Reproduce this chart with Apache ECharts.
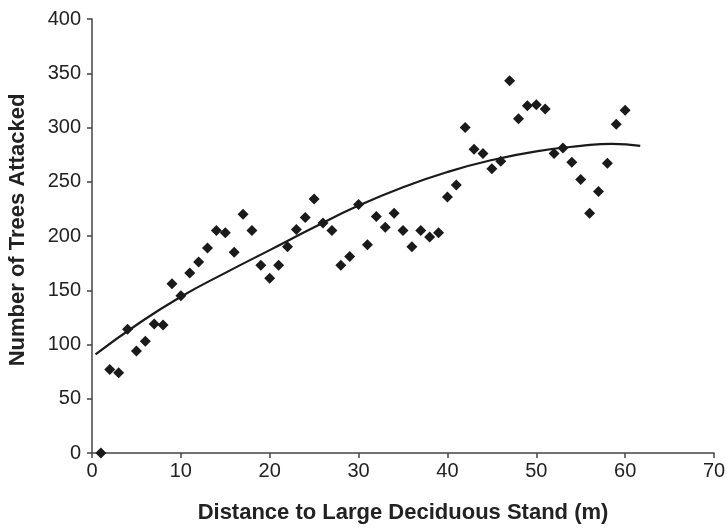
<!DOCTYPE html>
<html>
<head>
<meta charset="utf-8">
<script src="https://cdn.jsdelivr.net/npm/echarts@6/dist/echarts.min.js"></script>
<style>html,body{margin:0;padding:0;background:#fff}#c{width:727px;height:530px}</style>
</head>
<body>
<div id="c"></div>
<script>
// Observed data: distance (m) and number of trees attacked
const distances = [1,2,3,4,5,6,7,8,9,10,11,12,13,14,15,16,17,18,19,20,21,22,23,24,25,26,27,28,29,30,31,32,33,34,35,36,37,38,39,40,41,42,43,44,45,46,47,48,49,50,51,52,53,54,55,56,57,58,59,60];
const treesAttacked = [0,77,74,114,94,103,119,118,156,145,166,176,189,205,203,185,220,205,173,161,173,190,206,217,234,212,205,173,181,229,192,218,208,221,205,190,205,199,203,236,247,300,280,276,262,269,343,308,320,321,317,276,281,268,252,221,241,267,303,316];
// Trend line
const trendX = [0.4,5,10,15,20,25,30,35,40,45,50,55,58.5,61.7];
const trendY = [91,118,144,166,187,208,228,245,259,270,278,283,285,283];
// Axis ticks
const xTicks = {min:0, max:70, interval:10};
const yTicks = {min:0, max:400, interval:50};

const scatterData = distances.map((d,i)=>[d, treesAttacked[i]]);
const trendData = trendX.map((d,i)=>[d, trendY[i]]);

const chart = echarts.init(document.getElementById('c'), null, {renderer:'canvas'});
const axisCol = '#444';
const txtCol = '#222';
chart.setOption({
  animation:false,
  backgroundColor:'#fff',
  grid:{left:92, right:13, top:19, bottom:77, containLabel:false, outerBoundsMode:'none'},
  xAxis:{
    type:'value', min:xTicks.min, max:xTicks.max, interval:xTicks.interval,
    name:'Distance to Large Deciduous Stand (m)', nameLocation:'middle', nameGap:49,
    nameTextStyle:{fontFamily:'Liberation Sans', fontWeight:'bold', fontSize:22, color:txtCol},
    axisLine:{show:true, lineStyle:{color:axisCol, width:1.5}},
    axisTick:{show:true, inside:false, length:5, lineStyle:{color:axisCol, width:1.5}},
    axisLabel:{fontFamily:'Liberation Sans', fontSize:20, color:txtCol, margin:8},
    splitLine:{show:false}
  },
  yAxis:{
    type:'value', min:yTicks.min, max:yTicks.max, interval:yTicks.interval,
    name:'Number of Trees Attacked', nameLocation:'middle', nameGap:63,
    nameTextStyle:{fontFamily:'Liberation Sans', fontWeight:'bold', fontSize:22, color:txtCol, padding:[0,0,0,12]},
    axisLine:{show:true, lineStyle:{color:axisCol, width:1.5}},
    axisTick:{show:true, inside:false, length:5, lineStyle:{color:axisCol, width:1.5}},
    axisLabel:{fontFamily:'Liberation Sans', fontSize:20, color:txtCol, margin:11},
    splitLine:{show:false}
  },
  series:[
    {type:'line', data:trendData, smooth:true, showSymbol:false, symbol:'none',
     lineStyle:{color:'#1a1a1a', width:2.2}, z:2},
    {type:'scatter', data:scatterData, symbol:'diamond', symbolSize:11,
     itemStyle:{color:'#1a1a1a', opacity:1}, z:3}
  ]
});
</script>
</body>
</html>
